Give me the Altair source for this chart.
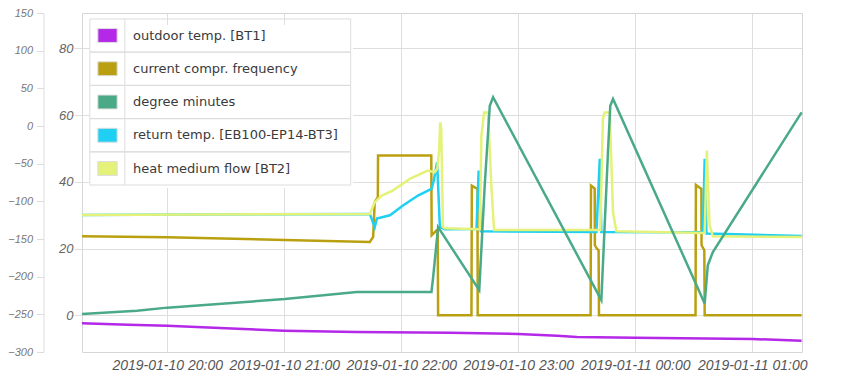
import altair as alt
import pandas as pd

SERIES = [
    "outdoor temp. [BT1]",
    "current compr. frequency",
    "degree minutes",
    "return temp. [EB100-EP14-BT3]",
    "heat medium flow [BT2]",
]
COLORS = ["#b428e8", "#baa010", "#4aaa88", "#1fd0f2", "#e4f27a"]

BASE = pd.Timestamp("2019-01-10 20:00:00")

# minutes after 2019-01-10 20:00 and values
outdoor_min = [-43.7, -20, 0, 30, 60, 97, 145, 180, 200, 210, 240, 300, 325.3]
outdoor_val = [-2.4, -2.8, -3.1, -3.9, -4.6, -5.0, -5.2, -5.6, -6.1, -6.5, -6.7, -7.1, -7.6]

compr_min = [-43.7, 0, 60.3, 103.9, 105.6, 106.4, 108.0, 108.1, 135.4, 135.6, 138.1, 138.7, 138.9,
             156.0, 156.2, 159.1, 159.2, 217.1, 217.3, 219.2, 219.3, 220.2, 221.2, 221.4,
             270.9, 271.1, 273.9, 274.0, 275.4, 275.6, 325.3]
compr_val = [23.7, 23.4, 22.6, 22.0, 23.5, 33.9, 35.4, 47.9, 47.9, 24.0, 25.5, 25.5, 0,
             0, 38.9, 37.9, 0, 0, 38.9, 38.0, 21.0, 20.1, 19.5, 0,
             0, 39.1, 37.9, 21.0, 19.5, 0, 0]

dm_min = [-43.7, -15.5, 0, 60.3, 97.2, 135.5, 136.3, 138.9, 160.0, 162.8, 165.4, 167.1,
          222.6, 226.0, 227.2, 228.6, 275.6, 277.2, 279.8, 325.3]
dm_val = [-249.7, -245.3, -241.1, -229.8, -220.2, -220.2, -202.4, -134.2, -217.9, -79.0, 26.9, 38.2,
          -231.2, -34.9, 26.9, 35.8, -235.5, -184.8, -167.2, 18.0]

return_min = [-43.7, 103.9, 106.4, 107.5, 114.2, 120.9, 128.6, 135.5, 136.7, 138.4, 139.8, 142.3,
              158.6, 159.7, 160.8, 220.1, 221.8, 222.6, 274.7, 275.6, 276.5, 325.3]
return_val = [30.1, 30.4, 26.4, 29.0, 30.0, 32.9, 35.9, 37.9, 40.4, 45.9, 26.5, 25.8,
              25.9, 43.4, 25.2, 25.0, 46.9, 25.0, 24.9, 46.9, 24.5, 23.8]

flow_min = [-43.7, 103.9, 106.4, 110.0, 115.6, 124.4, 133.6, 137.2, 138.5, 139.4, 140.0, 140.5, 141.4,
            142.3, 160.3, 161.1, 162.5, 164.5, 166.2, 167.6, 222.1, 223.4, 224.3, 226.9, 228.6, 230.3,
            275.6, 276.7, 278.1, 279.8, 325.3]
flow_val = [30.1, 30.4, 33.9, 35.9, 37.4, 40.9, 43.4, 42.9, 44.0, 49.4, 57.9, 56.0, 26.5,
            26.1, 25.8, 53.9, 60.8, 60.8, 38.9, 25.6, 25.6, 58.9, 60.8, 60.8, 30.9, 25.2,
            24.7, 49.4, 27.0, 23.7, 23.5]

INNER_TICKS = [0, 20, 40, 60, 80]
OUTER_TICKS = [-300, -250, -200, -150, -100, -50, 0, 50, 100, 150]
INNER_DOMAIN = [-11.0, 90.64]
OUTER_DOMAIN = [-300, 150]


def frame(name, mins, vals):
    return pd.DataFrame({
        "time": BASE + pd.to_timedelta(pd.Series(mins, dtype=float), unit="m"),
        "value": vals,
        "series": name,
    })


x_start = alt.DateTime(year=2019, month=1, date=10, hours=19, minutes=16, seconds=18)
x_end = alt.DateTime(year=2019, month=1, date=11, hours=1, minutes=25, seconds=30)
hour_ticks = [alt.DateTime(year=2019, month=1, date=10, hours=h) for h in (20, 21, 22, 23)] + \
             [alt.DateTime(year=2019, month=1, date=11, hours=h) for h in (0, 1)]

GRID = "#dedede"

x_axis = alt.Axis(values=hour_ticks, format="%Y-%m-%d %H:%M", title=None, grid=True, gridColor=GRID,
                  domain=False, ticks=False, labelPadding=6, labelFont="Liberation Sans",
                  labelFontStyle="italic", labelFontSize=14, labelColor="#555555", labelFlush=False)
x_enc = alt.X("time:T", scale=alt.Scale(domain=[x_start, x_end]), axis=x_axis)

inner_axis = alt.Axis(orient="left", values=INNER_TICKS, title=None, grid=True, gridColor=GRID,
                      domain=False, tickSize=8, tickColor=GRID, labelPadding=1,
                      labelFont="Liberation Sans", labelFontStyle="italic", labelFontSize=13,
                      labelColor="#666666")
outer_axis = alt.Axis(orient="left", offset=38.5, values=OUTER_TICKS, title=None, grid=False,
                      domain=True, domainColor="#dddddd", tickSize=7, tickColor="#dddddd",
                      labelPadding=4, labelFont="Liberation Sans", labelFontStyle="italic",
                      labelFontSize=11, labelColor="#777777")

color_scale = alt.Scale(domain=SERIES, range=COLORS)

# legend symbol: swatch + column separator + row box (unit = 9.65px)
ROW_SYMBOL = ("M-1,-0.72H1V0.72H-1Z M1.8,-1.71V1.71 "
              "M-1.83,-1.71H25.2 M25.2,-1.71V1.71 M-1.83,1.71H25.2 M-1.83,-1.71V1.71")
legend = alt.Legend(
    title=None, orient="none", legendX=7, legendY=12, direction="vertical",
    fillColor="white", padding=0,
    symbolType=ROW_SYMBOL, symbolSize=372.5, symbolOpacity=1,
    symbolStrokeWidth=1, symbolStrokeColor="#dddddd",
    symbolOffset=8, labelOffset=15, labelFont="DejaVu Sans", labelFontSize=13,
    labelColor="#3a3a3a", labelLimit=400, rowPadding=-5.75,
)


def inner_line(df, color):
    return alt.Chart(df).mark_line(strokeWidth=2.5, color=color).encode(
        x=x_enc,
        y=alt.Y("value:Q", scale=alt.Scale(domain=INNER_DOMAIN, nice=False, zero=False), axis=inner_axis),
    )


purple = inner_line(frame(SERIES[0], outdoor_min, outdoor_val), COLORS[0])
olive = inner_line(frame(SERIES[1], compr_min, compr_val), COLORS[1])
cyan = inner_line(frame(SERIES[3], return_min, return_val), COLORS[3])
yellow = inner_line(frame(SERIES[4], flow_min, flow_val), COLORS[4])

legend_src = alt.Chart(pd.DataFrame({"series": SERIES})).mark_point(filled=True, opacity=0).encode(
    x=alt.value(0), y=alt.value(0),
    color=alt.Color("series:N", scale=color_scale, legend=legend),
)

teal = alt.Chart(frame(SERIES[2], dm_min, dm_val)).mark_line(strokeWidth=2.5, color=COLORS[2]).encode(
    x=x_enc,
    y=alt.Y("value:Q", scale=alt.Scale(domain=OUTER_DOMAIN, nice=False, zero=False), axis=outer_axis),
)

inner = alt.layer(purple, olive, cyan, yellow)

chart = alt.layer(inner, teal, legend_src).resolve_scale(y="independent").properties(
    width=720, height=339,
    autosize=alt.AutoSizeParams(type="none"),
    padding={"left": 74, "top": 5, "right": 40, "bottom": 22},
).configure_view(stroke="#d6d6d6", strokeWidth=1)

chart.save("out.html", embed_options={"renderer": "svg", "actions": False})
